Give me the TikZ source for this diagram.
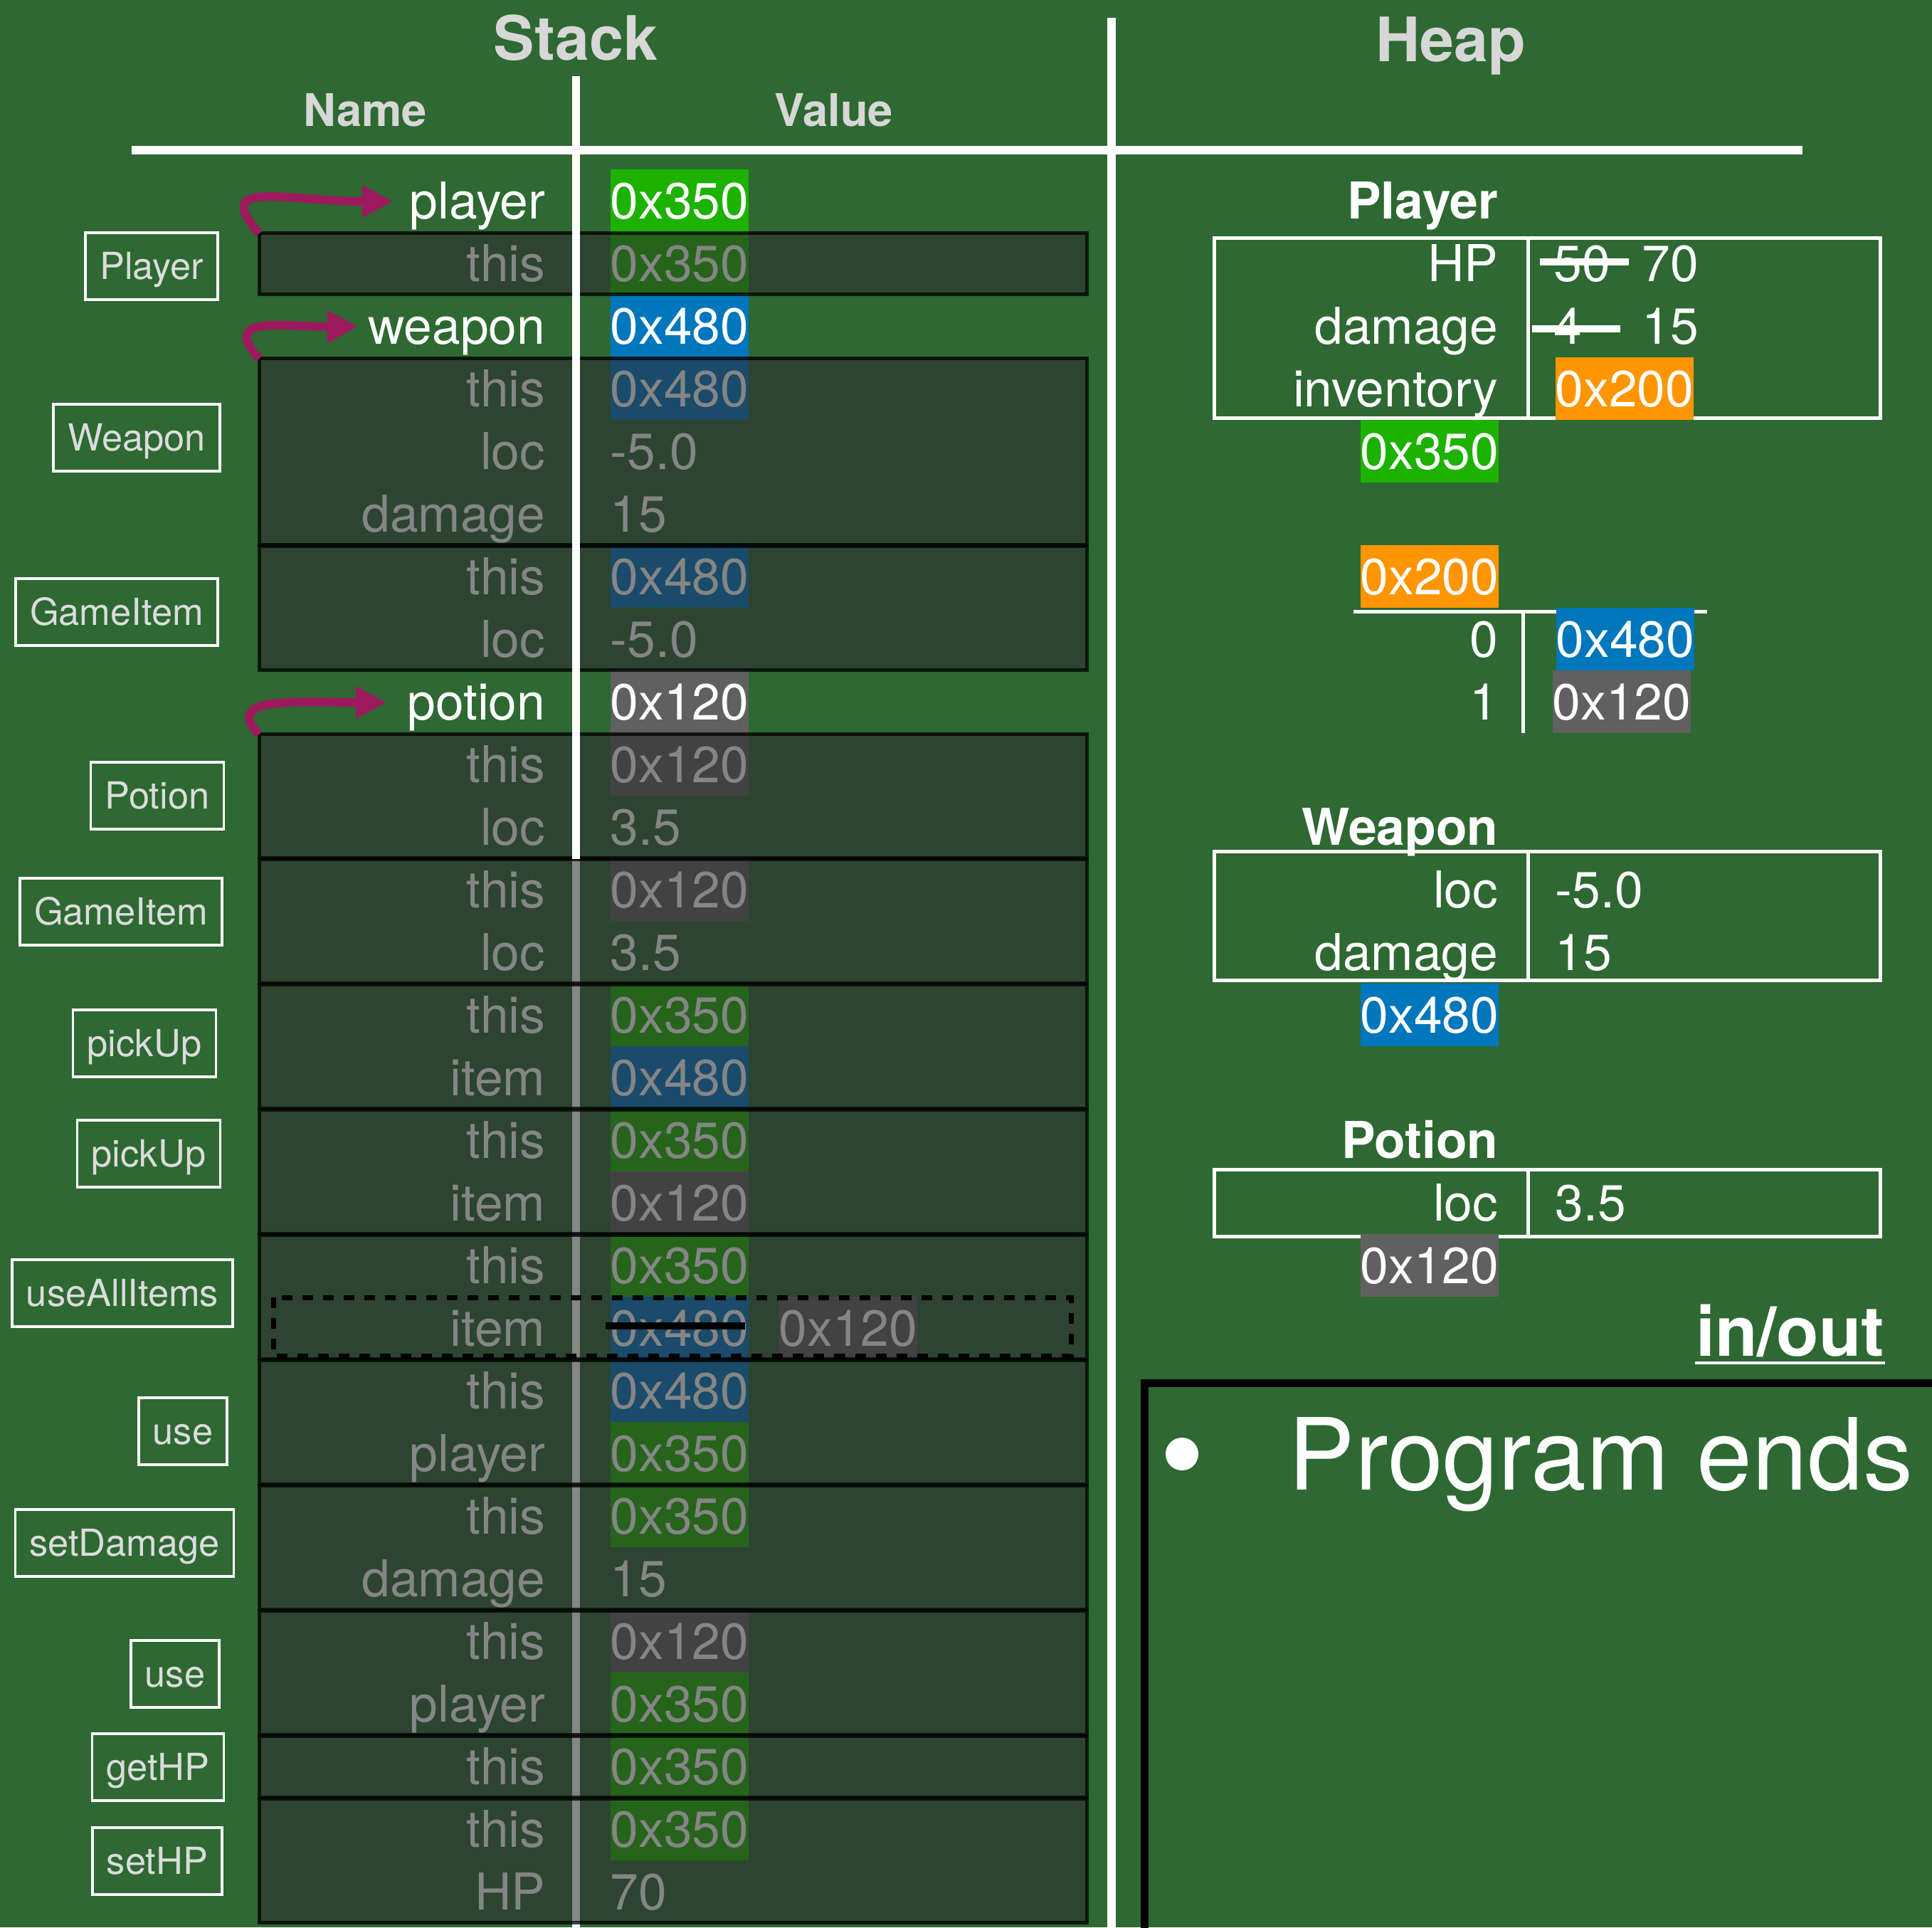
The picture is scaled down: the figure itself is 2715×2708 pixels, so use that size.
\documentclass[tikz,border=0pt]{standalone}
\usepackage{fontspec}
\setmainfont{TeX Gyre Heros}
\usetikzlibrary{arrows.meta,calc}
\definecolor{bg}{RGB}{46,104,50}
\definecolor{hlgreen}{RGB}{29,178,0}
\definecolor{hlblue}{RGB}{0,118,188}
\definecolor{hlgray}{RGB}{96,96,96}
\definecolor{hlorange}{RGB}{255,149,0}
\definecolor{hdrgray}{RGB}{215,215,215}
\definecolor{lblgray}{RGB}{220,220,220}
\definecolor{ovl}{RGB}{45,45,47}
\definecolor{mag}{RGB}{158,26,94}
\newcommand{\myrowfont}{\fontsize{20.3pt}{24pt}\selectfont}
\begin{document}
\begin{tikzpicture}[x=0.01cm, y=-0.01cm,
  rowtxt/.style={font=\myrowfont, text=white, inner sep=0pt, text height=0.69cm, text depth=0.19cm},
  boldtxt/.style={rowtxt, font=\myrowfont\bfseries},
  hdr/.style={font=\fontsize{24.5pt}{28pt}\selectfont\bfseries, text=hdrgray, inner sep=0pt, anchor=base},
  subhdr/.style={font=\fontsize{18pt}{22pt}\selectfont\bfseries, text=hdrgray, inner sep=0pt, anchor=base},
  lbl/.style={draw=white, line width=0.035cm, text=lblgray, font=\fontsize{14.9pt}{18pt}\selectfont, inner xsep=0.2cm, inner ysep=0pt, text height=0.45cm, text depth=0.073cm, minimum height=0.94cm},
  stackframe/.style={fill=ovl, fill opacity=0.58, draw=black, draw opacity=0.75, line width=0.05cm},
  heapline/.style={draw=white, line width=0.05cm},
  whiteline/.style={draw=white, line width=0.12cm},
  callarrow/.style={draw=mag, line width=0.12cm, -{Triangle[length=0.43cm,width=0.43cm]}},
  strike/.style={line width=0.1cm}
]
\useasboundingbox (0,0) rectangle (2715,2708);
\clip (0,0) rectangle (2715,2708);
\fill[bg] (0,0) rectangle (2715,2708);

% headers
\node[hdr] (stackh) at (809,84) {Stack};
\node[hdr] (heaph) at (2039,86) {Heap};
\node[subhdr] (nameh) at (513,177) {Name};
\node[subhdr] (valueh) at (1172,177) {Value};
\draw[whiteline] (185,211) -- (2533,211);
\draw[whiteline] (1562,25) -- (1562,2720);
% lower part of name/value divider (under the frames)
\draw[draw=white, line width=0.11cm] (809,1207) -- (809,2720);

% stack names
\foreach \i/\n in {0/player,1/this,2/weapon,3/this,4/loc,5/damage,6/this,7/loc,8/potion,9/this,10/loc,11/this,12/loc,13/this,14/item,15/this,16/item,17/this,18/item,19/this,20/player,21/this,22/damage,23/this,24/player,25/this,26/this,27/HP}
  \node[rowtxt, anchor=east] (n\i) at (767,{282+88*\i}) {\n};

% stack values
\foreach \i/\v/\c in {0/0x350/hlgreen,1/0x350/hlgreen,2/0x480/hlblue,3/0x480/hlblue,4/-5.0/none,5/15/none,6/0x480/hlblue,7/-5.0/none,8/0x120/hlgray,9/0x120/hlgray,10/3.5/none,11/0x120/hlgray,12/3.5/none,13/0x350/hlgreen,14/0x480/hlblue,15/0x350/hlgreen,16/0x120/hlgray,17/0x350/hlgreen,18/0x480/hlblue,19/0x480/hlblue,20/0x350/hlgreen,21/0x350/hlgreen,22/15/none,23/0x120/hlgray,24/0x350/hlgreen,25/0x350/hlgreen,26/0x350/hlgreen,27/70/none}
  \node[rowtxt, fill=\c, anchor=west] (v\i) at (857,{282+88*\i}) {\v};
\node[rowtxt, fill=hlgray, anchor=west] (v18b) at (1094,{282+88*18}) {0x120};

% call frames
\foreach \a/\b in {1/1,3/5,6/7,9/10,11/12,13/14,15/16,17/18,19/20,21/22,23/24,25/25,26/27}{
  \draw[stackframe] (364,{282+88*\a-43}) rectangle (1527,{282+88*\b+43});
  \coordinate (fr\a) at (364,{282+88*\a-42});
}

% upper part of name/value divider (over the frames)
\draw[draw=white, line width=0.11cm] (809,107) -- (809,1207);

% reassignment in useAllItems
\draw[black, strike] ([xshift=-0.06cm,yshift=0.03cm]v18.west) -- ([xshift=-0.06cm,yshift=0.03cm]v18.east);
\draw[black, line width=0.07cm, dash pattern=on 0.15cm off 0.14cm] (384,1823) rectangle (1505,1905);

% call arrows
\coordinate (t0) at (552,283);
\coordinate (t2) at (503,459);
\coordinate (t8) at (543,987);
\draw[callarrow] (fr1) .. controls ($(fr1)+(-68,-78)$) and ($(t0)+(-150,0)$) .. (t0);
\draw[callarrow] (fr3) .. controls ($(fr3)+(-55,-62)$) and ($(t2)+(-105,0)$) .. (t2);
\draw[callarrow] (fr9) .. controls ($(fr9)+(-52,-55)$) and ($(t8)+(-125,0)$) .. (t8);

% frame labels
\foreach \nm/\x/\y [count=\k] in {Player/213/374,Weapon/192/615,GameItem/164/860,Potion/221/1118,GameItem/170/1281,pickUp/203/1466,pickUp/209/1621,useAllItems/172/1817,use/257/2011,setDamage/175/2168,use/246/2352,getHP/222/2483,setHP/221/2615}
  \node[lbl] (lb\k) at (\x,\y) {\nm};

% ---------------- heap ----------------
% Player object
\node[boldtxt, anchor=east] (hPt) at (2106,282) {Player};
\draw[heapline] (1706,334) rectangle (2642,587);
\draw[heapline] (2147,334) -- (2147,587);
\node[rowtxt, anchor=east] (hPhp) at (2106,370) {HP};
\node[rowtxt, anchor=west] (hP50) at (2183,370) {50};
\node[rowtxt, anchor=west] (hP70) at (2307,370) {70};
\draw[white, strike] ([xshift=-0.19cm,yshift=0.02cm]hP50.west) -- ([xshift=0.25cm,yshift=0.02cm]hP50.east);
\node[rowtxt, anchor=east] (hPdm) at (2106,458) {damage};
\node[rowtxt, anchor=west] (hP4) at (2183,458) {4};
\node[rowtxt, anchor=west] (hP15) at (2307,458) {15};
\draw[white, strike] ([xshift=-0.30cm,yshift=-0.04cm]hP4.west) -- ([xshift=0.53cm,yshift=-0.04cm]hP4.east);
\node[rowtxt, anchor=east] (hPinv) at (2106,546) {inventory};
\node[rowtxt, fill=hlorange, anchor=west] (hPinvv) at (2185,546) {0x200};
\node[rowtxt, fill=hlgreen, anchor=east] (hPaddr) at (2107,634) {0x350};

% inventory array
\node[rowtxt, fill=hlorange, anchor=east] (hAaddr) at (2107,810) {0x200};
\draw[heapline] (1902,859) -- (2399,859);
\draw[heapline] (2140,859) -- (2140,1030);
\node[rowtxt, anchor=east] (hA0) at (2106,898) {0};
\node[rowtxt, fill=hlblue, anchor=west] (hA0v) at (2186,898) {0x480};
\node[rowtxt, anchor=east] (hA1) at (2106,986) {1};
\node[rowtxt, fill=hlgray, anchor=west] (hA1v) at (2181,986) {0x120};

% Weapon object
\node[boldtxt, anchor=east] (hWt) at (2106,1162) {Weapon};
\draw[heapline] (1706,1196) rectangle (2642,1377);
\draw[heapline] (2147,1196) -- (2147,1377);
\node[rowtxt, anchor=east] (hWl) at (2106,1250) {loc};
\node[rowtxt, anchor=west] (hWlv) at (2185,1250) {-5.0};
\node[rowtxt, anchor=east] (hWd) at (2106,1338) {damage};
\node[rowtxt, anchor=west] (hWdv) at (2185,1338) {15};
\node[rowtxt, fill=hlblue, anchor=east] (hWaddr) at (2107,1426) {0x480};

% Potion object
\node[boldtxt, anchor=east] (hPot) at (2106,1602) {Potion};
\draw[heapline] (1706,1643) rectangle (2642,1737);
\draw[heapline] (2147,1643) -- (2147,1737);
\node[rowtxt, anchor=east] (hPol) at (2106,1690) {loc};
\node[rowtxt, anchor=west] (hPolv) at (2185,1690) {3.5};
\node[rowtxt, fill=hlgray, anchor=east] (hPoaddr) at (2107,1778) {0x120};

% in/out panel
\node[font=\fontsize{27.7pt}{32pt}\selectfont\bfseries, text=white, inner sep=0pt, anchor=base east] (io) at (2649,1905) {in/out};
\draw[white, line width=0.045cm] ([yshift=-0.10cm]io.base west) -- ([yshift=-0.10cm]io.base east);
\draw[black, line width=0.11cm] (1608,1943) rectangle (2800,2800);
\node[circle, fill=white, minimum size=0.46cm, inner sep=0pt] (bullet) at (1661,2043) {};
\node[font=\fontsize{39.8pt}{44pt}\selectfont, text=white, inner sep=0pt, anchor=base west] (prog) at (1810,2093) {Program ends};
\end{tikzpicture}
\end{document}
